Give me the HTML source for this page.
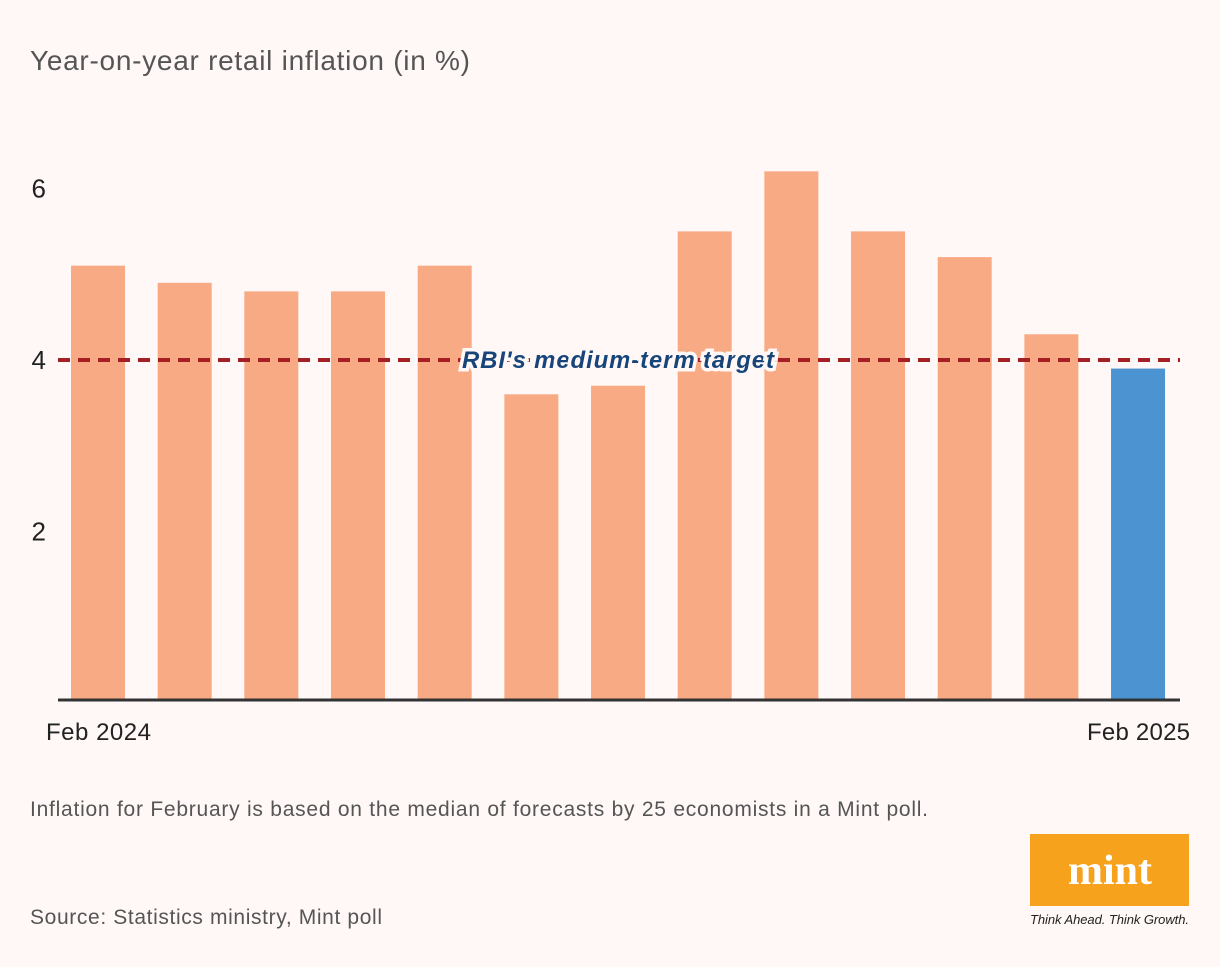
<!DOCTYPE html>
<html><head><meta charset="utf-8"><style>
body{margin:0;background:#fff8f7;width:1220px;height:962px;overflow:hidden;font-family:"Liberation Sans",sans-serif}
</style></head><body>
<svg width="1220" height="962">
<text x="30" y="70" font-size="28" fill="#555" textLength="440">Year-on-year retail inflation (in %)</text>
<g id="yticks"></g><g id="bars"></g>
<line x1="58" x2="1180" y1="700" y2="700" stroke="#333" stroke-width="3"/>
<g id="ref"></g>
<text x="46" y="740" font-size="24" fill="#222" textLength="105">Feb 2024</text>
<text x="1087" y="740" font-size="24" fill="#222" textLength="103">Feb 2025</text>
<text x="30" y="816" font-size="21" fill="#555" textLength="898">Inflation for February is based on the median of forecasts by 25 economists in a Mint poll.</text>
<text x="30" y="924" font-size="21" fill="#555" textLength="352">Source: Statistics ministry, Mint poll</text>
<rect x="1030" y="834" width="159" height="72" fill="#f7a21d"/>
<text x="1110" y="884" font-size="42" font-weight="bold" fill="#fff" text-anchor="middle" font-family="Liberation Serif,serif">mint</text>
<text x="1030" y="924" font-size="13" font-style="italic" fill="#222" textLength="159">Think Ahead. Think Growth.</text>
</svg>
<script>
const categories=["Feb 2024","Mar","Apr","May","Jun","Jul","Aug","Sep","Oct","Nov","Dec","Jan","Feb 2025"];
const values=[5.1,4.9,4.8,4.8,5.1,3.6,3.7,5.5,6.2,5.5,5.2,4.3,3.9];
const yTicks=[2,4,6];
const target=4;
const NS="http://www.w3.org/2000/svg";
const y=v=>703-v*85.75;
const xc=i=>98+i*86.67;
function mk(t,a,p){const e=document.createElementNS(NS,t);for(const k in a)e.setAttribute(k,a[k]);p.appendChild(e);return e;}
const yt=document.getElementById('yticks');
yTicks.forEach(v=>{const t=mk('text',{x:46,y:y(v)+9,'font-size':26,fill:'#222','text-anchor':'end'},yt);t.textContent=v;

});
const bg=document.getElementById('bars');
values.forEach((v,i)=>{const r=mk('rect',{x:xc(i)-27,y:y(v),width:54,height:700-y(v),fill:i==values.length-1?'#4b93d1':'#f7aa84'},bg);

});
const rg=document.getElementById('ref');
const l=mk('line',{x1:58,x2:1180,y1:y(target),y2:y(target),stroke:'#a52024','stroke-width':4,'stroke-dasharray':'12 8'},rg);


const lt=mk('text',{x:462,y:y(target)+8,'font-size':24,'font-weight':'bold','font-style':'italic',fill:'#17457a',textLength:312,stroke:'#fff8f7','stroke-width':7,'paint-order':'stroke'},rg);
lt.textContent="RBI's medium-term target";


</script>
</body></html>
